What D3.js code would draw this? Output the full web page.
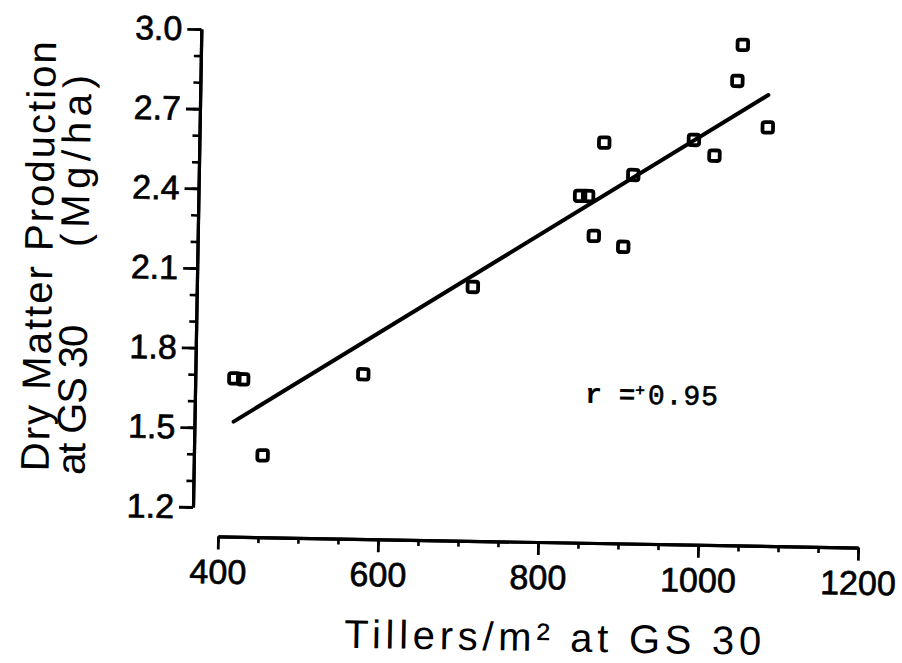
<!DOCTYPE html>
<html>
<head>
<meta charset="utf-8">
<script src="https://cdn.jsdelivr.net/npm/d3@7"></script>
<style>
  html, body { margin: 0; padding: 0; background: #fff; }
  svg { display: block; }
  text { fill: #000; }
</style>
</head>
<body>
<script>
// ---- Data ----
const tillers = [417, 428, 454, 578, 713, 845, 855, 863, 874, 900, 911, 986, 1012, 1039, 1045, 1078];
const dryMatter = [1.687, 1.684, 1.399, 1.711, 2.047, 2.397, 2.397, 2.247, 2.599, 2.208, 2.479, 2.615, 2.557, 2.840, 2.976, 2.667];
const fitX = [417, 1078];
const fitY = [1.524, 2.789];
const xTicks = [400, 600, 800, 1000, 1200];
const xMinor = d3.range(400, 1201, 50);
const yTicks = [1.2, 1.5, 1.8, 2.1, 2.4, 2.7, 3.0];
const yMinor = d3.range(12, 31, 1).map(d => d / 10);
const xTitle = "Tillers/m² at GS 30";
const yTitle1 = "Dry Matter Production";
const yTitle2a = "at GS 30";
const yTitle2b = "(Mg/ha)";
const rLabel = ["r =", "+", "0.95"];

const W = 902, H = 663;
const svg = d3.select("body").append("svg").attr("width", W).attr("height", H);
svg.append("rect").attr("width", W).attr("height", H).attr("fill", "#fff");

// whole scanned figure is tilted slightly clockwise
const g = svg.append("g").attr("transform", "rotate(1.0,193,507)");

const x = d3.scaleLinear().domain([400, 1200]).range([218.5, 858.7]);
const y = d3.scaleLinear().domain([1.2, 3.0]).range([507, 29]);
const axisX = 193, xAxisY = 536;
const font = "'Liberation Sans', Arial, sans-serif";

function styleLabels(sel) {
  sel.selectAll("text")
    .attr("font-family", font).attr("font-size", 34).attr("fill", "#000")
    .attr("stroke", "#000").attr("stroke-width", 0.7);
}

// Y axis
const yAx = g.append("g").attr("transform", `translate(${axisX},0)`);
yAx.call(d3.axisLeft(y).tickValues(yMinor).tickSize(7).tickSizeOuter(0).tickFormat(""));
const yMaj = g.append("g").attr("transform", `translate(${axisX},0)`)
  .call(d3.axisLeft(y).tickValues(yTicks).tickSize(14).tickSizeOuter(0).tickPadding(5).tickFormat(d3.format(".1f")));
yAx.selectAll("line").attr("stroke", "#000").attr("stroke-width", 2.6);
yMaj.selectAll("line").attr("stroke", "#000").attr("stroke-width", 2.8);
styleLabels(yMaj);

// X axis
const xAx = g.append("g").attr("transform", `translate(0,${xAxisY})`)
  .call(d3.axisBottom(x).tickValues(xMinor).tickSize(6).tickSizeOuter(0).tickFormat(""));
const xMaj = g.append("g").attr("transform", `translate(0,${xAxisY})`)
  .call(d3.axisBottom(x).tickValues(xTicks).tickSize(13).tickSizeOuter(0).tickPadding(10).tickFormat(d3.format("d")));
xAx.selectAll("line").attr("stroke", "#000").attr("stroke-width", 2.6);
xMaj.selectAll("line").attr("stroke", "#000").attr("stroke-width", 2.8);
styleLabels(xMaj);
g.selectAll(".domain").attr("stroke", "#000").attr("stroke-width", 3.2);

// Regression line
g.append("path")
  .datum(d3.zip(fitX, fitY))
  .attr("d", d3.line().x(d => x(d[0])).y(d => y(d[1])))
  .attr("stroke", "#000").attr("stroke-width", 4).attr("fill", "none").attr("stroke-linecap", "round");

// Points
const s = 10.5;
g.selectAll("rect.pt").data(d3.zip(tillers, dryMatter)).join("rect")
  .attr("class", "pt")
  .attr("x", d => x(d[0]) - s / 2).attr("y", d => y(d[1]) - s / 2)
  .attr("width", s).attr("height", s).attr("rx", 2.2)
  .attr("fill", "none").attr("stroke", "#000").attr("stroke-width", 3.8);

// r label
const mono = "'Liberation Mono', 'Courier New', monospace";
g.append("text").attr("x", 583).attr("y", 396)
  .attr("font-family", mono).attr("font-size", 28).attr("font-weight", "bold").text(rLabel[0]);
g.append("text").attr("x", 633).attr("y", 388)
  .attr("font-family", font).attr("font-size", 17).attr("font-weight", "bold").text(rLabel[1]);
g.append("text").attr("x", 646).attr("y", 396)
  .attr("font-family", mono).attr("font-size", 28)
  .attr("stroke", "#000").attr("stroke-width", 0.6)
  .attr("textLength", 70).attr("lengthAdjust", "spacing").text(rLabel[2]);

// X title
g.append("text").attr("x", 555).attr("y", 645).attr("text-anchor", "middle")
  .attr("font-family", font).attr("font-size", 40)
  .attr("textLength", 417).attr("lengthAdjust", "spacing").text(xTitle);

// Y titles
g.append("text").attr("transform", "translate(48,259) rotate(-90)").attr("text-anchor", "middle")
  .attr("font-family", font).attr("font-size", 40)
  .attr("textLength", 430).attr("lengthAdjust", "spacing").text(yTitle1);
g.append("text").attr("transform", "translate(84,402) rotate(-90)").attr("text-anchor", "middle")
  .attr("font-family", font).attr("font-size", 40)
  .attr("textLength", 150).attr("lengthAdjust", "spacing").text(yTitle2a);
g.append("text").attr("transform", "translate(84,163) rotate(-90)").attr("text-anchor", "middle")
  .attr("font-family", font).attr("font-size", 40)
  .attr("textLength", 172).attr("lengthAdjust", "spacing").text(yTitle2b);
</script>
</body>
</html>
